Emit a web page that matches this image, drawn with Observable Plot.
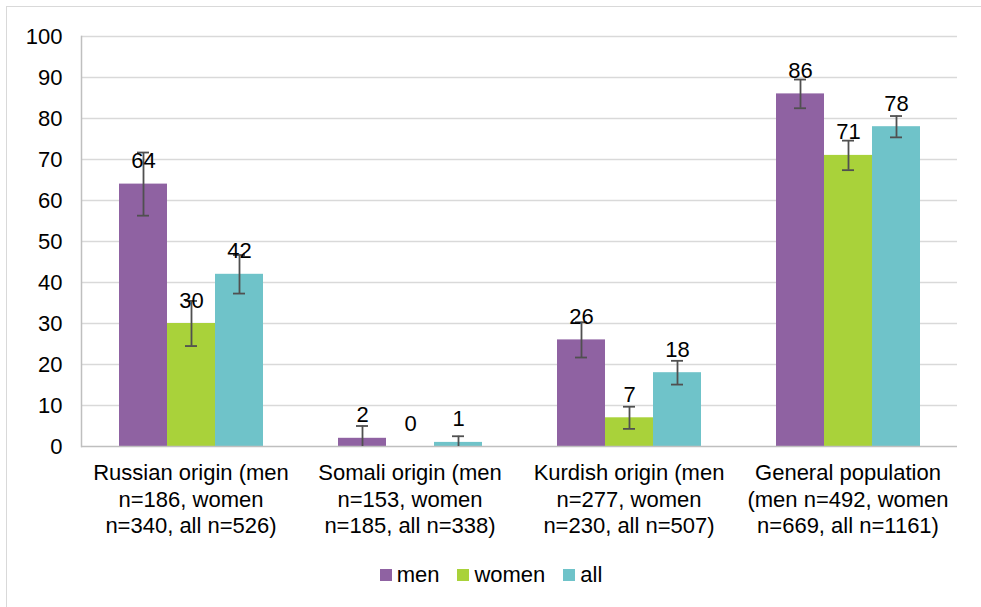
<!DOCTYPE html>
<html>
<head>
<meta charset="utf-8">
<script src="https://cdn.jsdelivr.net/npm/d3@7"></script>
<script src="https://cdn.jsdelivr.net/npm/@observablehq/plot@0.6"></script>
<style>
  body { margin: 0; background: #fff; font-family: "Liberation Sans", Arial, sans-serif; }
  #wrap { position: absolute; left: 6px; top: 6px; width: 975px; height: 601px;
          border-top: 1px solid #d9d9d9; border-left: 1px solid #d9d9d9; }
  #chart { position: absolute; left: 0; top: 0; }
  #legend { position: absolute; left: 0; top: 549px; width: 968px; height: 38px;
            display: flex; justify-content: center; align-items: center; font-size: 22px; color: #000; }
  .item { display: flex; align-items: center; margin: 0 9px; }
  .sw { width: 12px; height: 12px; margin-right: 5px; }
</style>
</head>
<body>
<div id="wrap"><div id="chart"></div><div id="legend"></div></div>
<script>
const categories = [
  "Russian origin (men\nn=186, women\nn=340, all n=526)",
  "Somali origin (men\nn=153, women\nn=185, all n=338)",
  "Kurdish origin (men\nn=277, women\nn=230, all n=507)",
  "General population\n(men n=492, women\nn=669, all n=1161)"
];
const series = ["men", "women", "all"];
const colors = ["#8f62a2", "#a9d23a", "#6fc3c9"];
const men = [64, 2, 26, 86];
const women = [30, 0, 7, 71];
const all = [42, 1, 18, 78];
const errMen = [7.7, 3, 4.3, 3.5];
const errWomen = [5.5, null, 2.7, 3.6];
const errAll = [4.7, 1.5, 2.9, 2.6];
const yTicks = [0, 10, 20, 30, 40, 50, 60, 70, 80, 90, 100];

const values = {men, women, all};
const errs = {men: errMen, women: errWomen, all: errAll};
const rows = [];
categories.forEach((g, i) => {
  series.forEach(s => {
    rows.push({group: g, series: s, value: values[s][i], err: errs[s][i]});
  });
});
const errRows = rows.filter(d => d.err != null).map(d => ({...d, lo: d.value - d.err, hi: d.value + d.err}));

const chart = Plot.plot({
  width: 968,
  height: 548,
  marginTop: 29,
  marginLeft: 74,
  marginRight: 18,
  marginBottom: 109,
  style: {fontFamily: "'Liberation Sans', Arial, sans-serif", fontSize: "22px", color: "#000", background: "transparent"},
  y: {domain: [0, 100]},
  fx: {domain: categories, paddingInner: 0, paddingOuter: 0},
  x: {domain: series, paddingInner: 0, paddingOuter: 0.773, axis: null},
  color: {domain: series, range: colors},
  marks: [
    Plot.gridY(yTicks.filter(t => t > 0), {stroke: "#d9d9d9", strokeOpacity: 1, strokeWidth: 1.5}),
    Plot.barY(rows, {fx: "group", x: "series", y: "value", fill: "series"}),
    Plot.ruleY([0], {stroke: "#bfbfbf", strokeWidth: 1.5}),
    Plot.frame({anchor: "left", stroke: "#bfbfbf", strokeWidth: 1.5, facetAnchor: "left"}),
    Plot.ruleX(errRows, {fx: "group", x: "series", y1: "lo", y2: "hi", stroke: "#505050", strokeWidth: 1.8, clip: true}),
    Plot.tickY(errRows, {fx: "group", x: "series", y: "hi", stroke: "#505050", strokeWidth: 1.8, insetLeft: 18, insetRight: 18, clip: true}),
    Plot.tickY(errRows.filter(d => d.lo > 0), {fx: "group", x: "series", y: "lo", stroke: "#505050", strokeWidth: 1.8, insetLeft: 18, insetRight: 18}),
    Plot.text(rows, {fx: "group", x: "series", y: "value", text: d => String(d.value), dy: -23, fill: "#000", fontSize: 22}),
    Plot.axisY(yTicks, {tickSize: 0, tickPadding: 19, label: null, fontSize: 22}),
    Plot.axisFx({anchor: "bottom", tickSize: 0, tickPadding: 15, label: null, lineHeight: 1.2, fontSize: 22})
  ]
});
document.getElementById("chart").appendChild(chart);

const legend = document.getElementById("legend");
series.forEach((s, i) => {
  const item = document.createElement("div");
  item.className = "item";
  const sw = document.createElement("div");
  sw.className = "sw";
  sw.style.background = colors[i];
  const lab = document.createElement("span");
  lab.textContent = s;
  item.appendChild(sw);
  item.appendChild(lab);
  legend.appendChild(item);
});
</script>
</body>
</html>
